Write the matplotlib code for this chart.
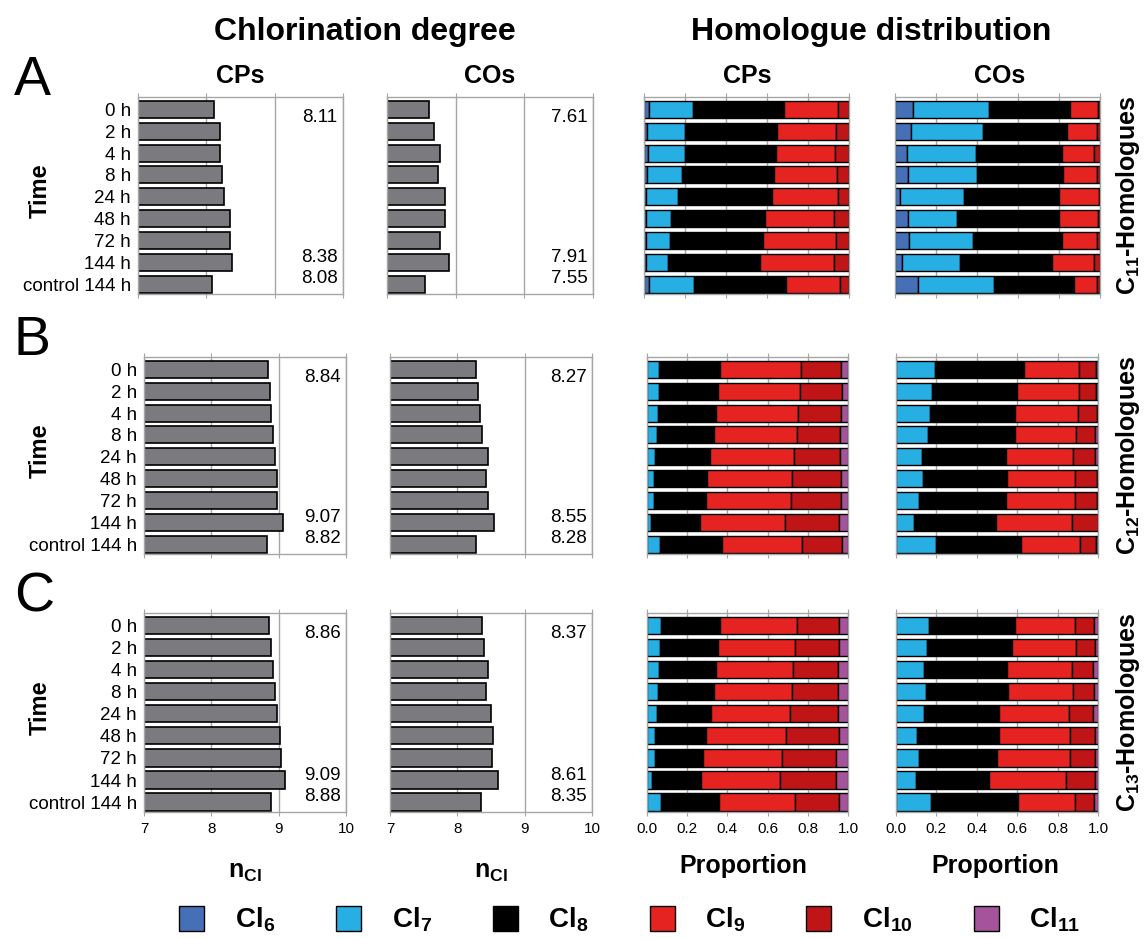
import numpy as np
import matplotlib.pyplot as plt

plt.rcParams['font.family'] = ['Liberation Sans', 'DejaVu Sans']
plt.rcParams['mathtext.fontset'] = 'custom'
plt.rcParams['mathtext.rm'] = 'Liberation Sans'
plt.rcParams['mathtext.bf'] = 'Liberation Sans:bold'
plt.rcParams['mathtext.it'] = 'Liberation Sans:italic'

times = ['0 h', '2 h', '4 h', '8 h', '24 h', '48 h', '72 h', '144 h', 'control 144 h']
cl_names = [r'$\mathbf{Cl}_{\mathbf{6}}$', r'$\mathbf{Cl}_{\mathbf{7}}$', r'$\mathbf{Cl}_{\mathbf{8}}$',
            r'$\mathbf{Cl}_{\mathbf{9}}$', r'$\mathbf{Cl}_{\mathbf{10}}$', r'$\mathbf{Cl}_{\mathbf{11}}$']
cl_colors = ['#4570B8', '#27AEE3', '#000000', '#E52421', '#C01517', '#A5539B']

# chlorination degree (n_Cl)
ncl_cp_c11 = [8.11, 8.20, 8.20, 8.23, 8.26, 8.34, 8.35, 8.38, 8.08]
ncl_co_c11 = [7.61, 7.68, 7.77, 7.74, 7.85, 7.85, 7.77, 7.91, 7.55]
ncl_cp_c12 = [8.84, 8.87, 8.89, 8.91, 8.95, 8.97, 8.97, 9.07, 8.82]
ncl_co_c12 = [8.27, 8.31, 8.34, 8.37, 8.45, 8.43, 8.45, 8.55, 8.28]
ncl_cp_c13 = [8.86, 8.88, 8.91, 8.94, 8.97, 9.02, 9.04, 9.09, 8.88]
ncl_co_c13 = [8.37, 8.39, 8.45, 8.43, 8.50, 8.53, 8.52, 8.61, 8.35]

# homologue proportions, columns Cl6..Cl11
hom_cp_c11 = [[0.024, 0.213, 0.446, 0.263, 0.054, 0.0],
              [0.016, 0.185, 0.447, 0.287, 0.065, 0.0],
              [0.019, 0.179, 0.445, 0.289, 0.068, 0.0],
              [0.013, 0.172, 0.448, 0.309, 0.058, 0.0],
              [0.011, 0.155, 0.456, 0.323, 0.055, 0.0],
              [0.010, 0.123, 0.456, 0.340, 0.071, 0.0],
              [0.010, 0.117, 0.454, 0.354, 0.065, 0.0],
              [0.010, 0.108, 0.447, 0.362, 0.073, 0.0],
              [0.024, 0.218, 0.453, 0.260, 0.045, 0.0]]
hom_co_c11 = [[0.089, 0.371, 0.394, 0.135, 0.011, 0.0],
              [0.076, 0.353, 0.408, 0.147, 0.016, 0.0],
              [0.060, 0.333, 0.423, 0.156, 0.028, 0.0],
              [0.063, 0.337, 0.421, 0.166, 0.013, 0.0],
              [0.023, 0.312, 0.465, 0.195, 0.005, 0.0],
              [0.063, 0.239, 0.500, 0.187, 0.011, 0.0],
              [0.070, 0.309, 0.437, 0.168, 0.016, 0.0],
              [0.034, 0.283, 0.449, 0.203, 0.031, 0.0],
              [0.111, 0.372, 0.390, 0.112, 0.015, 0.0]]
hom_cp_c12 = [[0.0, 0.061, 0.303, 0.400, 0.201, 0.035],
              [0.0, 0.058, 0.294, 0.407, 0.210, 0.031],
              [0.0, 0.053, 0.289, 0.407, 0.216, 0.035],
              [0.0, 0.051, 0.283, 0.410, 0.218, 0.038],
              [0.0, 0.041, 0.273, 0.418, 0.230, 0.038],
              [0.0, 0.036, 0.263, 0.422, 0.243, 0.036],
              [0.0, 0.035, 0.259, 0.420, 0.251, 0.035],
              [0.0, 0.020, 0.246, 0.422, 0.266, 0.046],
              [0.0, 0.066, 0.308, 0.398, 0.198, 0.030]]
hom_co_c12 = [[0.0, 0.193, 0.442, 0.269, 0.086, 0.010],
              [0.0, 0.180, 0.420, 0.304, 0.084, 0.012],
              [0.0, 0.167, 0.421, 0.313, 0.092, 0.007],
              [0.0, 0.157, 0.430, 0.302, 0.096, 0.015],
              [0.0, 0.127, 0.417, 0.332, 0.111, 0.013],
              [0.0, 0.136, 0.413, 0.335, 0.109, 0.007],
              [0.0, 0.112, 0.432, 0.342, 0.109, 0.005],
              [0.0, 0.089, 0.404, 0.378, 0.127, 0.002],
              [0.0, 0.198, 0.423, 0.288, 0.081, 0.010]]
hom_cp_c13 = [[0.0, 0.071, 0.293, 0.380, 0.211, 0.045],
              [0.0, 0.066, 0.288, 0.383, 0.217, 0.046],
              [0.0, 0.061, 0.281, 0.385, 0.225, 0.048],
              [0.0, 0.056, 0.275, 0.388, 0.230, 0.051],
              [0.0, 0.050, 0.269, 0.390, 0.240, 0.051],
              [0.0, 0.040, 0.254, 0.400, 0.260, 0.046],
              [0.0, 0.038, 0.243, 0.393, 0.268, 0.058],
              [0.0, 0.026, 0.243, 0.395, 0.274, 0.062],
              [0.0, 0.069, 0.288, 0.380, 0.218, 0.045]]
hom_co_c13 = [[0.0, 0.162, 0.428, 0.298, 0.094, 0.018],
              [0.0, 0.152, 0.420, 0.317, 0.094, 0.017],
              [0.0, 0.140, 0.410, 0.321, 0.103, 0.026],
              [0.0, 0.149, 0.406, 0.323, 0.101, 0.021],
              [0.0, 0.139, 0.373, 0.346, 0.117, 0.025],
              [0.0, 0.102, 0.410, 0.351, 0.124, 0.013],
              [0.0, 0.112, 0.390, 0.359, 0.122, 0.017],
              [0.0, 0.099, 0.359, 0.382, 0.147, 0.013],
              [0.0, 0.174, 0.429, 0.285, 0.094, 0.018]]

W, H = 1146, 939
fig = plt.figure(figsize=(W / 100, H / 100), dpi=100)
grey = '#A6A6A6'


def px_axes(x0, x1, y0, y1):
    return fig.add_axes([x0 / W, 1 - y1 / H, (x1 - x0) / W, (y1 - y0) / H])


def frame(ax):
    for s in ax.spines.values():
        s.set_color(grey)
        s.set_linewidth(1)
    ax.tick_params(axis='x', which='both', bottom=True, top=True, direction='out',
                   length=3, color=grey, labelsize=11, pad=4)
    ax.tick_params(axis='y', left=False, right=False, length=0, pad=5)
    ax.set_axisbelow(True)
    ax.grid(axis='x', color=grey, lw=1)
    ax.set_ylim(8.45, -0.57)


def chlor(ax, vals, show_times, show_x):
    y = np.arange(len(vals))
    ax.barh(y, np.array(vals) - 7, left=7, height=0.78, color='#7B7A7F',
            edgecolor='black', lw=1.2)
    ax.set_xlim(7, 10)
    ax.set_xticks([7, 8, 9, 10])
    frame(ax)
    ax.set_yticks(y)
    if show_times:
        ax.set_yticklabels(times, fontsize=13.5)
    else:
        ax.set_yticklabels([])
    if not show_x:
        ax.set_xticklabels([])
    for i, dy in [(0, 0.35), (7, -0.2), (8, -0.25)]:
        ax.text(9.92, i + dy, '%.2f' % vals[i], ha='right', va='center', fontsize=13.5)


def homol(ax, rows, show_x):
    data = np.array(rows)
    y = np.arange(len(data))
    left = np.zeros(len(data))
    handles = []
    for j in range(data.shape[1]):
        b = ax.barh(y, data[:, j], left=left, height=0.78, color=cl_colors[j],
                    edgecolor='black', lw=1.0)
        handles.append(b)
        left = left + data[:, j]
    ax.set_xlim(0, 1)
    ax.set_xticks([0, 0.2, 0.4, 0.6, 0.8, 1.0])
    frame(ax)
    ax.set_yticks([])
    if show_x:
        ax.set_xticklabels(['0.0', '0.2', '0.4', '0.6', '0.8', '1.0'])
    else:
        ax.set_xticklabels([])
    return handles


rows_px = [(97, 294), (357, 554), (613, 812)]
cols_px = [[(138, 343), (387, 593), (644, 849), (895, 1100)],
           [(144, 346), (390, 592), (647, 848), (896, 1098)],
           [(144, 346), (390, 592), (647, 848), (896, 1098)]]
ncl_cp = [ncl_cp_c11, ncl_cp_c12, ncl_cp_c13]
ncl_co = [ncl_co_c11, ncl_co_c12, ncl_co_c13]
hom_cp = [hom_cp_c11, hom_cp_c12, hom_cp_c13]
hom_co = [hom_co_c11, hom_co_c12, hom_co_c13]
letters = ['A', 'B', 'C']
right_labels = [r'$\mathbf{C}_{\mathbf{11}}$-Homologues', r'$\mathbf{C}_{\mathbf{12}}$-Homologues',
                r'$\mathbf{C}_{\mathbf{13}}$-Homologues']

handles = None
for k in range(3):
    y0, y1 = rows_px[k]
    last = (k == 2)
    ax1 = px_axes(*cols_px[k][0], y0, y1)
    chlor(ax1, ncl_cp[k], True, last)
    ax2 = px_axes(*cols_px[k][1], y0, y1)
    chlor(ax2, ncl_co[k], False, last)
    ax3 = px_axes(*cols_px[k][2], y0, y1)
    homol(ax3, hom_cp[k], last)
    ax4 = px_axes(*cols_px[k][3], y0, y1)
    h = homol(ax4, hom_co[k], last)
    if k == 0:
        handles = h
    mid = (y0 + y1) / 2
    fig.text(14 / W, 1 - (y0 - 2) / H, letters[k], fontsize=40, ha='left', va='baseline')
    fig.text(40 / W, 1 - (mid - 5) / H, 'Time', fontsize=17, fontweight='bold',
             rotation=90, ha='center', va='center')
    fig.text(1128 / W, 1 - mid / H, right_labels[k], fontsize=18, fontweight='bold',
             rotation=90, ha='center', va='center')

fig.text(365 / W, 1 - 40 / H, 'Chlorination degree', fontsize=23, fontweight='bold',
         ha='center', va='baseline')
fig.text(871 / W, 1 - 40 / H, 'Homologue distribution', fontsize=23, fontweight='bold',
         ha='center', va='baseline')
for x, t in [(240, 'CPs'), (490, 'COs'), (747, 'CPs'), (1000, 'COs')]:
    fig.text(x / W, 1 - 83 / H, t, fontsize=18, fontweight='bold', ha='center', va='baseline')

for x in [245, 491]:
    fig.text(x / W, 1 - 872 / H, r'$\mathbf{n}_{\mathbf{Cl}}$', fontsize=18,
             ha='center', va='center')
for x in [743, 995]:
    fig.text(x / W, 1 - 866 / H, 'Proportion', fontsize=18, fontweight='bold',
             ha='center', va='center')

fig.legend(handles, cl_names, loc='center', bbox_to_anchor=(630 / W, 1 - 920 / H), ncol=6,
           frameon=False, fontsize=20, handlelength=0.9, handleheight=1.0,
           handletextpad=1.1, columnspacing=2.2, borderaxespad=0)

fig.savefig('out.png', dpi=100)
